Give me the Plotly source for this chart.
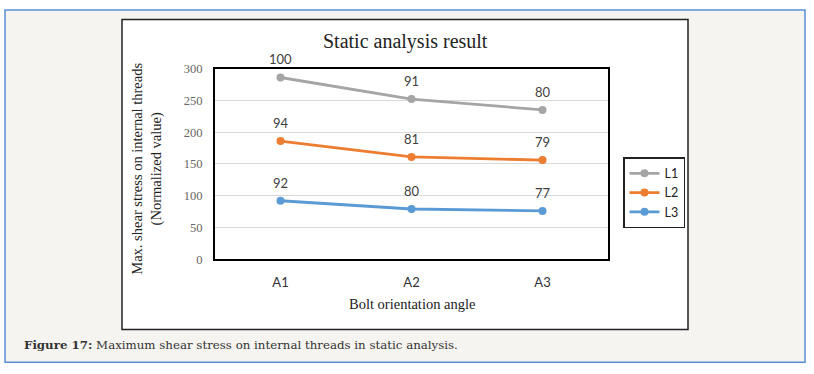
import plotly.graph_objects as go

W, H = 814, 374

categories = ["A1", "A2", "A3"]
series_names = ["L1", "L2", "L3"]
l1_values = [286, 252, 235]
l2_values = [186, 161, 156]
l3_values = [92, 79, 76]
l1_labels = ["100", "91", "80"]
l2_labels = ["94", "81", "79"]
l3_labels = ["92", "80", "77"]
y_ticks = [0, 50, 100, 150, 200, 250, 300]

colors = ["#A5A5A5", "#ED7D31", "#5B9BD5"]
values = [l1_values, l2_values, l3_values]
labels = [l1_labels, l2_labels, l3_labels]

# plot area in page pixels
PL, PR, PT, PB = 215, 608, 64, 262

def px(x):
    return x / W

def py(y):
    return 1 - y / H

fig = go.Figure()
for name, vals, col in zip(series_names, values, colors):
    fig.add_trace(go.Scatter(
        x=categories, y=vals, name=name, mode="lines+markers",
        legendgroup=name,
        line=dict(color=col, width=2.8),
        marker=dict(color=col, size=8),
    ))

sans = "Lato, Open Sans, sans-serif"
serif = "Liberation Serif, Times New Roman, serif"

annotations = []
for vals, labs in zip(values, labels):
    for c, v, t in zip(categories, vals, labs):
        annotations.append(dict(
            x=c, y=v, xref="x", yref="y", text=t, showarrow=False,
            yshift=18, yanchor="middle",
            font=dict(family=sans, size=13, color="#404040"),
        ))

annotations += [
    dict(x=px(405), y=py(36), xref="paper", yref="paper", text="Static analysis result",
         showarrow=False, xanchor="center", yanchor="middle",
         font=dict(family=serif, size=20, color="#222")),
    dict(x=px(412), y=py(309), xref="paper", yref="paper", text="Bolt orientation angle",
         showarrow=False, xanchor="center", yanchor="middle",
         font=dict(family=serif, size=14.5, color="#222")),
    dict(x=px(147), y=py(168), xref="paper", yref="paper",
         text="Max. shear stress on internal threads<br>(Normalized value)",
         showarrow=False, xanchor="center", yanchor="middle", textangle=-90,
         font=dict(family=serif, size=14.5, color="#222")),
    dict(x=px(22), y=py(351), xref="paper", yref="paper",
         text="<b>Figure 17:</b> Maximum shear stress on internal threads in static analysis.",
         showarrow=False, xanchor="left", yanchor="middle",
         font=dict(family="DejaVu Serif, serif", size=11.8, color="#333")),
]

shapes = [
    dict(type="rect", xref="paper", yref="paper", x0=px(5), x1=px(805), y0=py(369), y1=py(3),
         fillcolor="#F5F4F0", line=dict(color="#5B8ED6", width=1.5), layer="below"),
    dict(type="rect", xref="paper", yref="paper", x0=px(122), x1=px(688), y0=py(335), y1=py(13),
         fillcolor="#FFFFFF", line=dict(color="#222", width=1.5), layer="below"),
]

fig.update_layout(
    width=W, height=H,
    margin=dict(l=0, r=0, t=0, b=0),
    paper_bgcolor="#FFFFFF", plot_bgcolor="#FFFFFF",
    showlegend=True,
    legend=dict(x=px(623), y=py(156), xanchor="left", yanchor="top",
                bordercolor="#222", borderwidth=1.5, bgcolor="#FFFFFF",
                font=dict(family=sans, size=12.5, color="#222"),
                itemwidth=30, tracegroupgap=5, traceorder="normal"),
    annotations=annotations,
    shapes=shapes,
    xaxis=dict(domain=[px(PL), px(PR)], range=[-0.5, 2.5], type="category",
               showline=True, linecolor="#000", linewidth=2, mirror=True,
               showgrid=False, ticks="outside", ticklen=10, tickcolor="rgba(0,0,0,0)",
               tickfont=dict(family=sans, size=13, color="#333")),
    yaxis=dict(domain=[py(PB), py(PT)], range=[0, 300], tickvals=y_ticks,
               showline=True, linecolor="#000", linewidth=2, mirror=True,
               showgrid=True, gridcolor="#D9D9D9", gridwidth=1, zeroline=False,
               ticks="outside", ticklen=8, tickcolor="rgba(0,0,0,0)",
               tickfont=dict(family=serif, size=12.5, color="#666")),
)

fig.write_html(
    "out.html",
    config={"displayModeBar": False},
    post_script="document.body.style.margin='0';document.body.style.overflow='hidden';",
)
